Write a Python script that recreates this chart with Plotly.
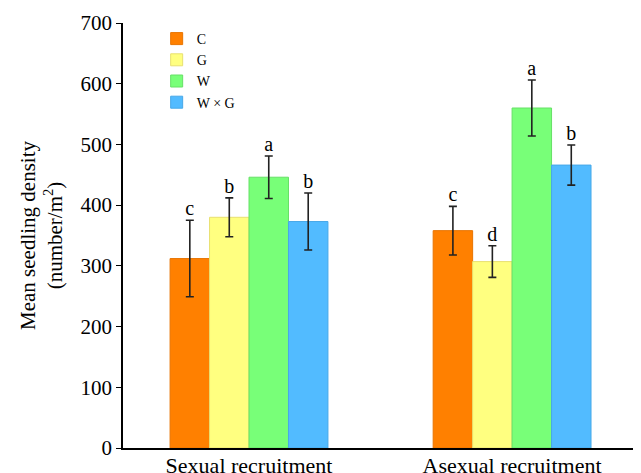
import plotly.graph_objects as go

categories = ["Sexual recruitment", "Asexual recruitment"]
treatments = ["C", "G", "W", "W × G"]
means = {
    "C": [312, 358],
    "G": [380, 307],
    "W": [446, 560],
    "W × G": [373, 466],
}
errors = {
    "C": [63, 40],
    "G": [32, 26],
    "W": [35, 46],
    "W × G": [47, 33],
}
letters = {
    "C": ["c", "c"],
    "G": ["b", "d"],
    "W": ["a", "a"],
    "W × G": ["b", "b"],
}
colors = {"C": "#FF8000", "G": "#FFFF80", "W": "#78FF78", "W × G": "#52BBFF"}
edges = {"C": "#E87400", "G": "#E8E070", "W": "#66E066", "W × G": "#48A8E8"}

FONT = "Liberation Serif, Times New Roman, serif"

fig = go.Figure()
for t in treatments:
    fig.add_trace(go.Bar(
        x=categories, y=means[t], name=t,
        marker=dict(color=colors[t], line=dict(color=edges[t], width=1)),
        error_y=dict(type="data", array=errors[t], color="#222222", thickness=1.6, width=4),
        offsetgroup=t,
    ))
for t in treatments:
    fig.add_trace(go.Scatter(
        x=categories, y=[m + e for m, e in zip(means[t], errors[t])],
        mode="text", text=letters[t], textposition="top center",
        textfont=dict(family=FONT, size=20, color="black"),
        showlegend=False, offsetgroup=t, hoverinfo="skip",
    ))

# the page body adds an 8 px offset; the figure is sized to fill the rest of the window
fig.update_layout(
    width=633, height=465,
    margin=dict(l=115, r=0, t=15, b=25, autoexpand=False),
    paper_bgcolor="white", plot_bgcolor="white",
    barmode="group", bargap=0.4, bargroupgap=0,
    scattermode="group", scattergap=0.4,
    font=dict(family=FONT, size=21, color="black"),
    showlegend=True,
    legend=dict(x=0.065, y=1.0, xanchor="left", yanchor="top",
                font=dict(family=FONT, size=14), bgcolor="rgba(0,0,0,0)",
                tracegroupgap=0, itemwidth=30),
    xaxis=dict(range=[-0.479, 1.49], showline=True, linecolor="black", linewidth=1.6,
               ticks="", tickfont=dict(family=FONT, size=22), showgrid=False, zeroline=False,
               automargin=False, ticklabelstandoff=-3),
    yaxis=dict(range=[0, 700], dtick=100, showline=True, linecolor="black", linewidth=1.6,
               ticks="outside", ticklen=5, tickwidth=1.4, tickcolor="black",
               tickfont=dict(family=FONT, size=21), showgrid=False, zeroline=False,
               automargin=False,
               title=dict(text="Mean seedling density<br>(number/m<sup>2</sup>)",
                          font=dict(family=FONT, size=21), standoff=12)),
)

fig.write_html("out.html")
